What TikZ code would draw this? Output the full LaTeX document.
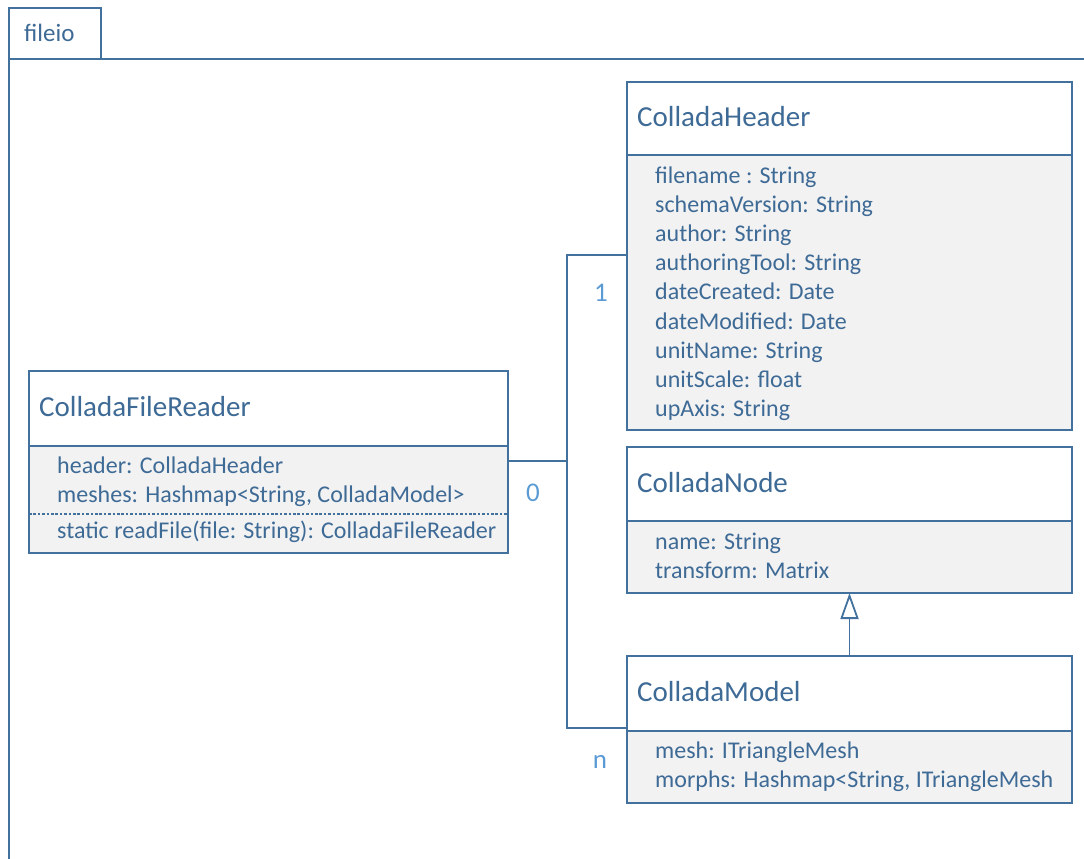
\documentclass[tikz,border=0pt]{standalone}
\usepackage{fontspec}
\setmainfont{Carlito}
\usetikzlibrary{arrows.meta,calc}
\definecolor{umlline}{HTML}{41719C}
\definecolor{umltext}{HTML}{3E6A96}
\definecolor{umlfill}{HTML}{F2F2F2}
\definecolor{multcol}{HTML}{5B9BD5}
\tikzset{
  wire/.style={draw=umlline, line width=1.8pt},
  headbox/.style={draw=umlline, line width=1.8pt, fill=white, anchor=north west, inner sep=0pt, outer sep=0pt},
  bodybox/.style={draw=umlline, line width=1.8pt, fill=umlfill, anchor=north west, inner sep=0pt, outer sep=0pt},
  cname/.style={anchor=base west, text=umltext, font=\fontsize{29}{32}\selectfont, inner sep=0pt},
  attr/.style={anchor=base west, text=umltext, font=\fontsize{24}{27}\selectfont, inner sep=0pt},
  mult/.style={anchor=base, text=multcol, font=\fontsize{27}{30}\selectfont, inner sep=0pt},
  inherit/.style={wire, -{Triangle[open, width=18pt, length=26pt, line width=1.8pt]}},
}
\begin{document}
\begin{tikzpicture}[x=1pt, y=-1pt]
\useasboundingbox (0,0) rectangle (1084,859);

% package frame with tab
\node[draw=umlline, line width=1.8pt, anchor=north west, minimum width=92pt, minimum height=51pt, inner sep=0pt, outer sep=0pt] (tab) at (9,8) {};
\node[anchor=base west, text=umltext, font=\fontsize{25}{28}\selectfont, inner sep=0pt] (pkgname) at (24,41.5) {fileio};
\draw[wire] (9,859) -- (tab.south west) -- (1084,59);

% ColladaFileReader
\node[headbox, minimum width=479pt, minimum height=75pt] (frT) at (29,371) {};
\node[bodybox, minimum width=479pt, minimum height=107pt] (frB) at (29,446) {};
\node[cname] (frN) at (39,416) {ColladaFileReader};
\node[attr] (fr1) at (57,473) {header: ColladaHeader};
\node[attr] (fr2) at (57,502) {meshes: Hashmap<String, ColladaModel>};
\draw[umlline, line width=1.1pt, dash pattern=on 2.6pt off 1.8pt] (frB.west |- 0,514) -- (frB.east |- 0,514);
\node[attr] (fr3) at (57,538) {static readFile(file: String): ColladaFileReader};

% ColladaHeader
\node[headbox, minimum width=445pt, minimum height=73pt] (hdT) at (627,82) {};
\node[bodybox, minimum width=445pt, minimum height=275pt] (hdB) at (627,155) {};
\node[cname] (hdN) at (637,126) {ColladaHeader};
\foreach \t [count=\i from 0] in {filename : String, schemaVersion: String, author: String, authoringTool: String, dateCreated: Date, dateModified: Date, unitName: String, unitScale: float, upAxis: String}
  \node[attr] (hd\i) at (655,183.5+29.1*\i) {\t};

% ColladaNode
\node[headbox, minimum width=445pt, minimum height=74pt] (ndT) at (627,447) {};
\node[bodybox, minimum width=445pt, minimum height=72pt] (ndB) at (627,521) {};
\node[cname] (ndN) at (637,492) {ColladaNode};
\node[attr] (nd1) at (655,549) {name: String};
\node[attr] (nd2) at (655,578) {transform: Matrix};

% ColladaModel
\node[headbox, minimum width=445pt, minimum height=75pt] (mdT) at (627,656) {};
\node[bodybox, minimum width=445pt, minimum height=72pt] (mdB) at (627,731) {};
\node[cname] (mdN) at (637,701) {ColladaModel};
\node[attr] (md1) at (655,758) {mesh: ITriangleMesh};
\node[attr] (md2) at (655,787) {morphs: Hashmap<String, ITriangleMesh};

% associations
\coordinate (src) at ($(frB.north east)+(0,15)$);
\coordinate (fork) at ($(src)+(59,0)$);
\draw[wire] (src) -- (fork);
\draw[wire] (fork) |- ($(hdB.north west)+(0,100)$);
\draw[wire] (fork) |- ($(mdB.north west)+(0,-3)$);
\node[mult] (m1) at (601,301) {1};
\node[mult] (m0) at (533,501) {0};
\node[mult] (mn) at (600,768) {n};

% generalisation
\draw[inherit] (mdT.north) -- (ndB.south);
\end{tikzpicture}
\end{document}
